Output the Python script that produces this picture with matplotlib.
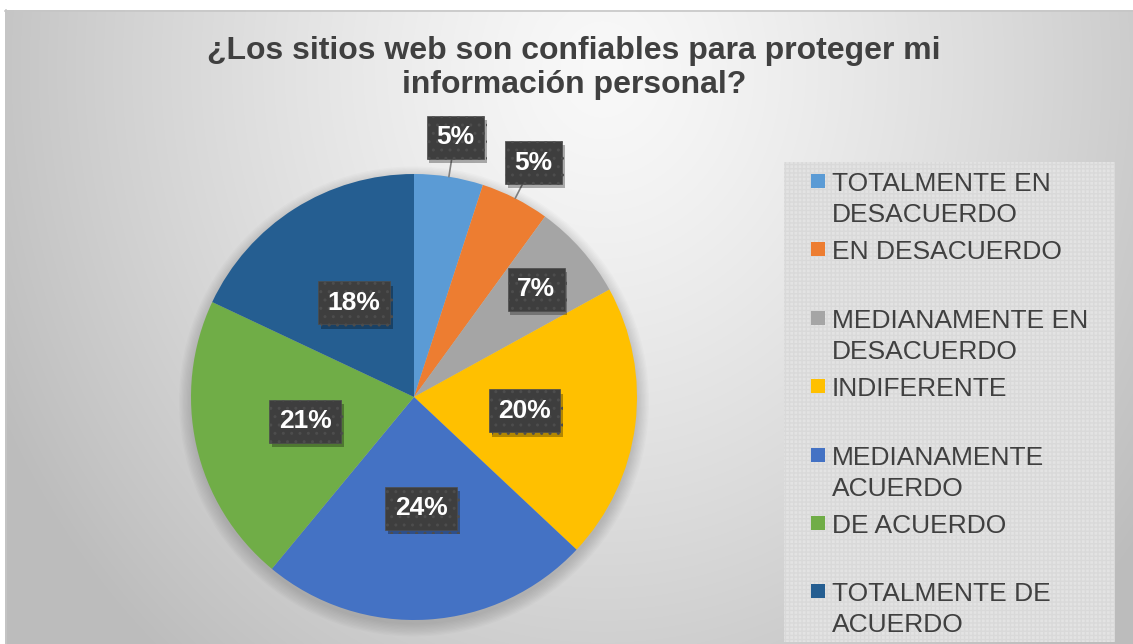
import numpy as np
import matplotlib
matplotlib.use("Agg")
import matplotlib.pyplot as plt
from matplotlib.patches import Rectangle, Circle
import matplotlib.patheffects as pe

plt.rcParams["font.family"] = ["Liberation Sans", "DejaVu Sans"]

# Data
categories = [
    "TOTALMENTE EN\nDESACUERDO",
    "EN DESACUERDO",
    "MEDIANAMENTE EN\nDESACUERDO",
    "INDIFERENTE",
    "MEDIANAMENTE\nACUERDO",
    "DE ACUERDO",
    "TOTALMENTE DE\nACUERDO",
]
percentages = [5, 5, 7, 20, 24, 21, 18]
colors = ["#5b9bd5", "#ed7d31", "#a5a5a5", "#ffc000", "#4472c4", "#70ad47", "#255e91"]
title = "¿Los sitios web son confiables para proteger mi\ninformación personal?"

# label placement (radius as fraction of pie radius)
label_radius = [1.18, 1.18, 0.73, 0.5, 0.5, 0.5, 0.5]

W, H = 1133, 644
fig = plt.figure(figsize=(W / 100, H / 100), dpi=100)
fig.patch.set_facecolor("white")

# background with radial gradient
bg = fig.add_axes([0, 0, 1, 1])
bg.set_xlim(0, W)
bg.set_ylim(H, 0)
bg.axis("off")
yy, xx = np.mgrid[0:H, 0:W]
d = np.sqrt(((xx - 600) / 620.0) ** 2 + ((yy - 60) / 720.0) ** 2)
shade = np.clip(0.975 - 0.21 * d ** 1.3, 0.74, 1.0)
img = np.dstack([shade, shade, shade])
bg.imshow(img, extent=(5, W, H, 10), aspect="auto", zorder=0)
bg.plot([5, W], [10.5, 10.5], color="#c6c6c6", lw=1.2, zorder=1)
bg.plot([5.5, 5.5], [10, H], color="#c6c6c6", lw=1.2, zorder=1)

# legend panel with fine grid texture
bg.add_patch(Rectangle((784, 162), 331, 480, facecolor="#e3e3e3",
                       edgecolor="#d9d9d9", hatch="++++", lw=0, zorder=2))

# title
fig.text(574 / W, 1 - 68 / H, title, ha="center", va="center",
         fontsize=23, fontweight="bold", color="#404040", linespacing=1.2)

# legend entries
for i, (lab, col) in enumerate(zip(categories, colors)):
    y0 = 191 + i * 68.4
    bg.add_patch(Rectangle((811, y0 - 17), 14, 14, facecolor=col, lw=0, zorder=3))
    for j, line in enumerate(lab.split("\n")):
        bg.text(832, y0 + j * 31, line, fontsize=19, color="#404040",
                ha="left", va="baseline", zorder=3)

# pie
R = 223
cx, cy = 414, 397
half = 1.3 * R
ax = fig.add_axes([(cx - half) / W, (H - cy - half) / H, 2 * half / W, 2 * half / H])

# soft shadow under the pie
for k in range(10):
    ax.add_patch(Circle((0, -0.02), 1.0 + 0.006 * k, facecolor="black",
                        alpha=0.016, lw=0, zorder=1))

wedges, _ = ax.pie(percentages, colors=colors, startangle=90, counterclock=False,
                   radius=1.0, wedgeprops=dict(linewidth=0))
for w in wedges:
    w.set_zorder(2)
ax.set_xlim(-1.3, 1.3)
ax.set_ylim(-1.3, 1.3)
ax.set_aspect("equal")
ax.axis("off")

shadow = [pe.SimplePatchShadow(offset=(2, -3), shadow_rgbFace="black", alpha=0.3),
          pe.Normal()]
for w, p, lr in zip(wedges, percentages, label_radius):
    mid = np.deg2rad((w.theta1 + w.theta2) / 2)
    tx, ty = lr * np.cos(mid), lr * np.sin(mid)
    box = dict(boxstyle="square,pad=0.36", facecolor="#3e3e3e",
               edgecolor="#4d4d4d", hatch="..", lw=0.5)
    if lr > 1:
        t = ax.annotate(f"{p}%", xy=(np.cos(mid), np.sin(mid)), xytext=(tx, ty),
                        ha="center", va="center", fontsize=19, fontweight="bold",
                        color="white", bbox=box, zorder=5,
                        arrowprops=dict(arrowstyle="-", color="#7f7f7f", lw=1.2,
                                        shrinkA=0, shrinkB=0))
    else:
        t = ax.text(tx, ty, f"{p}%", ha="center", va="center", fontsize=19,
                    fontweight="bold", color="white", bbox=box, zorder=5)
    t.get_bbox_patch().set_path_effects(shadow)

fig.savefig("out.png", dpi=100)
